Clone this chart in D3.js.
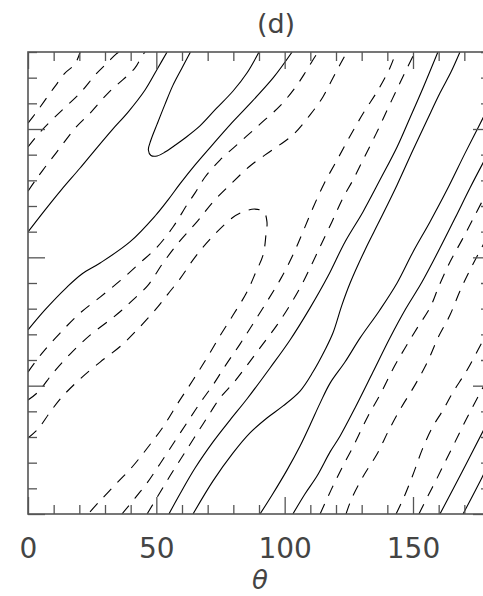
<!DOCTYPE html>
<html><head><meta charset="utf-8">
<script src="https://cdn.jsdelivr.net/npm/d3@7"></script>
<style>html,body{margin:0;padding:0;background:#fff;overflow:hidden}</style>
</head><body>
<script>
// ---- axis data ----
const xDomain = [0, 180];
const yDomain = [0, 180];
const minorTicks = [0,10,20,30,40,50,60,70,80,90,100,110,120,130,140,150,160,170,180];
const majorTicks = [0, 50, 100, 150];
const xTickLabels = ["0", "50", "100", "150"];
const titleText = "(d)";
const xLabel = "\u03b8";

// ---- solid contour lines [theta, y] ----
const solidA1 = [[0,109.9],[6.6,118.4],[12.9,126.2],[20.3,134.8],[26.1,141.8],[32.7,149.6],[39.0,156.6],[45.6,165.2],[50.6,173.8],[54.2,180]];
const solidLoop = [[63.3,180],[60.0,173.8],[56.5,167.1],[53.4,159.7],[50.3,151.9],[47.9,145.7],[46.9,141.8],[47.9,139.7],[50.3,139.5],[53.4,141.0],[56.9,143.4],[61.2,146.5],[67.0,151.2],[73.2,157.8],[79.9,164.8],[85.3,171.8],[90.0,180]];
const solidA3 = [[0,71.7],[6.6,79.5],[15.2,88.4],[21.0,93.5],[28.1,97.8],[39.7,106.0],[49.5,116.1],[54.5,122.3],[59.2,128.6],[65.1,136.0],[72.1,144.1],[78.7,151.6],[85.3,158.6],[95.5,169.9],[102.9,180]];
const solidB1 = [[54.9,0],[59.2,7.8],[65.1,17.9],[72.1,28.1],[78.7,36.6],[85.3,44.8],[94.3,56.9],[102.1,67.8],[109.9,80.3],[116.9,92.7],[123.5,106.0],[130.5,117.7],[137.1,130.1],[143.8,143.0],[148.8,154.3],[153.9,166.0],[159.7,180]];
const solidB2 = [[64.3,0],[72.1,12.9],[79.9,23.8],[86.5,31.6],[93.1,37.4],[99.4,42.1],[106.0,47.9],[111.0,55.3],[115.7,63.9],[118.8,70.5],[122.3,81.4],[125.5,90.0],[131.3,102.9],[137.1,114.5],[143.8,128.2],[150.0,141.8],[155.5,153.5],[160.5,164.0],[164.8,172.2],[168.3,180]];
const solidB3 = [[90.4,0],[95.1,7.4],[100.9,17.1],[106.0,26.5],[109.9,34.7],[113.8,43.2],[117.7,51.0],[123.5,59.2],[129.4,68.6],[137.1,79.5],[143.8,90.0],[150.0,102.1],[156.6,113.8],[163.2,126.2],[170.3,140.6],[175.3,150.4],[180,159.7]];
const solidB4 = [[103.2,0],[107.9,7.8],[112.6,14.8],[117.7,24.2],[121.6,30.4],[127.4,41.3],[134.4,55.3],[141.0,68.6],[146.9,79.5],[153.5,90.4],[160.5,103.6],[166.4,115.3],[172.2,127.0],[177.3,136.8],[180,141.8]];
const solidC1 = [[160.5,0],[169.1,16.4],[177.3,32.3],[180,37.4]];
const solidC2 = [[169.5,0],[174.2,9.0],[180,20.3]];

// ---- dashed contour lines [theta, y] ----
const dashA1 = [[0,152.3],[1.9,154.7],[3.9,157.4],[8.6,164.0],[10.9,167.1],[14.4,171.8],[18.3,175.3],[20.3,180]];
const dashA2 = [[0,143.0],[5.1,149.2],[12.9,157.0],[20.3,164.0],[26.5,171.4],[31.2,176.1],[34.3,179.2],[35.5,180]];
const dashA3 = [[0,125.8],[2.7,129.7],[5.8,134.0],[10.9,140.6],[18.7,150.7],[24.2,156.2],[31.2,164.0],[38.2,170.3],[41.7,173.8],[44.4,178.4],[45.6,180]];
const dashE = [[0,55.3],[5.5,62.7],[12.5,70.5],[20.3,78.3],[28.1,84.5],[35.8,90.8],[43.6,97.8],[50.3,104.0],[56.5,111.8],[61.9,120.4],[65.1,125.1],[69.0,131.3],[74.8,137.9],[82.6,144.9],[90.4,151.9],[98.2,159.0],[104.0,166.0],[107.9,171.8],[111.0,176.9],[113.0,180]];
const dashF = [[0,44.4],[3.9,47.5],[9.7,54.9],[16.4,62.3],[24.2,69.7],[31.9,75.6],[36.2,79.1],[40.9,83.4],[46.8,89.2],[52.6,97.8],[59.2,106.4],[65.8,113.8],[72.1,121.6],[79.5,129.0],[86.5,135.6],[95.1,141.8],[103.2,147.7],[109.9,155.5],[114.9,162.5],[118.8,169.9],[121.9,175.7],[124.3,180]];
const dashHook = [[0,29.6],[3.9,33.1],[8.6,39.7],[13.6,46.0],[20.3,52.6],[28.1,59.2],[36.2,65.5],[43.6,72.9],[49.9,79.9],[54.5,85.7],[59.2,91.6],[65.1,100.1],[71.7,107.9],[79.5,115.3],[83.8,117.7],[88.4,118.8],[91.9,117.7],[93.1,113.8],[92.7,108.7],[91.6,100.9],[88.8,94.3],[85.3,86.5],[79.9,77.5],[74.8,69.4],[69.7,60.8],[64.3,52.2],[58.4,43.2],[52.6,33.9],[46.8,26.1],[40.9,18.7],[33.9,11.3],[27.3,4.3],[23.4,0]];
const dashM1 = [[36.6,0],[41.7,6.2],[46.4,12.1],[51.4,19.5],[56.5,27.3],[61.9,35.5],[67.0,43.2],[72.1,50.3],[77.1,58.1],[82.6,66.2],[88.1,74.8],[93.5,83.4],[98.6,91.9],[103.2,100.9],[107.1,109.9],[111.0,119.2],[115.3,128.6],[120.4,137.9],[125.5,147.3],[130.9,156.6],[136.4,165.2],[141.0,173.8],[143.4,180]];
const dashM2 = [[46.4,0],[50.6,7.0],[55.3,14.8],[60.0,22.2],[64.7,29.6],[69.7,37.4],[74.8,45.2],[80.3,51.4],[85.7,58.4],[91.2,65.8],[97.0,73.6],[102.1,81.4],[106.8,89.6],[111.0,98.2],[114.5,105.6],[118.4,113.8],[122.7,123.1],[126.6,130.1],[130.9,138.7],[135.6,148.1],[140.3,158.2],[144.9,167.9],[148.1,174.5],[150.8,180]];
const dashR1 = [[113.8,0],[118.1,9.4],[122.3,17.9],[127.0,26.9],[132.5,38.2],[137.5,47.1],[142.2,56.5],[146.9,64.7],[151.9,72.9],[156.6,80.3],[160.1,88.8],[164.4,98.2],[169.1,106.8],[174.2,116.5],[180,127.8]];
const dashR2 = [[123.9,0],[126.2,6.2],[130.9,15.2],[136.0,23.4],[140.6,32.7],[145.3,41.3],[150.8,50.3],[155.8,59.6],[159.7,68.6],[164.4,77.5],[168.3,86.9],[172.2,95.1],[177.3,104.8],[180,109.9]];
const dashR3 = [[143.4,0],[146.5,6.6],[150.4,16.4],[153.5,24.9],[157.4,33.5],[161.7,40.5],[165.6,47.5],[170.6,55.3],[175.3,63.9],[180,72.9]];
const dashR4 = [[152.3,0],[155.8,7.0],[159.0,13.2],[162.5,20.3],[166.4,28.1],[170.6,36.6],[175.3,45.6],[180,54.5]];

const solidLines = [solidA1, solidLoop, solidA3, solidB1, solidB2, solidB3, solidB4, solidC1, solidC2];
const dashedLines = [dashA1, dashA2, dashA3, dashE, dashF, dashHook, dashM1, dashM2, dashR1, dashR2, dashR3, dashR4];

// ---- drawing ----
const W = 500, H = 596;
const L = 28, R = 490, T = 52, B = 514;
const axisColor = "#555";
const font = "'DejaVu Sans ExtraLight', 'DejaVu Sans', sans-serif";
const textColor = "#444";

const svg = d3.select("body").append("svg").attr("width", W).attr("height", H);
const x = d3.scaleLinear().domain(xDomain).range([L, R]);
const y = d3.scaleLinear().domain(yDomain).range([B, T]);

svg.append("clipPath").attr("id", "clip").append("rect")
  .attr("x", L).attr("y", T).attr("width", R - L).attr("height", B - T);

const line = d3.line().x(d => x(d[0])).y(d => y(d[1])).curve(d3.curveCatmullRom.alpha(0.5));
const g = svg.append("g").attr("clip-path", "url(#clip)");
g.selectAll("path.solid").data(solidLines).join("path")
  .attr("class", "solid").attr("d", line)
  .attr("fill", "none").attr("stroke", "#000").attr("stroke-width", 1.1);
g.selectAll("path.dash").data(dashedLines).join("path")
  .attr("class", "dash").attr("d", line)
  .attr("fill", "none").attr("stroke", "#000").attr("stroke-width", 1.1)
  .attr("stroke-dasharray", "11,9");

function styleAxis(sel) {
  sel.select(".domain").remove();
  sel.selectAll(".tick line").attr("stroke", axisColor).attr("stroke-width", 1.3);
}
const minorOnly = minorTicks.filter(t => !majorTicks.includes(t));
// bottom
svg.append("g").attr("transform", `translate(0,${B})`)
  .call(d3.axisBottom(x).tickValues(minorOnly).tickSize(-9).tickFormat(""))
  .call(styleAxis);
const bx = svg.append("g").attr("transform", `translate(0,${B})`)
  .call(d3.axisBottom(x).tickValues(majorTicks).tickSize(-17).tickPadding(24)
    .tickFormat((d, i) => xTickLabels[i]))
  .call(styleAxis);
bx.selectAll("text").attr("font-family", font).attr("font-size", 28)
  .attr("fill", textColor);
// top
svg.append("g").attr("transform", `translate(0,${T})`)
  .call(d3.axisTop(x).tickValues(minorOnly).tickSize(-9).tickFormat(""))
  .call(styleAxis);
svg.append("g").attr("transform", `translate(0,${T})`)
  .call(d3.axisTop(x).tickValues(majorTicks).tickSize(-17).tickFormat(""))
  .call(styleAxis);
// left
svg.append("g").attr("transform", `translate(${L},0)`)
  .call(d3.axisLeft(y).tickValues(minorOnly).tickSize(-9).tickFormat(""))
  .call(styleAxis);
svg.append("g").attr("transform", `translate(${L},0)`)
  .call(d3.axisLeft(y).tickValues(majorTicks).tickSize(-17).tickFormat(""))
  .call(styleAxis);
// right
svg.append("g").attr("transform", `translate(${R},0)`)
  .call(d3.axisRight(y).tickValues(minorOnly).tickSize(-9).tickFormat(""))
  .call(styleAxis);
svg.append("g").attr("transform", `translate(${R},0)`)
  .call(d3.axisRight(y).tickValues(majorTicks).tickSize(-17).tickFormat(""))
  .call(styleAxis);

// frame
svg.append("rect").attr("x", L).attr("y", T).attr("width", R - L).attr("height", B - T)
  .attr("fill", "none").attr("stroke", axisColor).attr("stroke-width", 1.6);

// title and axis label
svg.append("text").attr("x", 276).attr("y", 33).attr("text-anchor", "middle")
  .attr("font-family", font).attr("font-size", 27)
  .attr("fill", textColor).text(titleText);
svg.append("text").attr("x", 260).attr("y", 589).attr("text-anchor", "middle")
  .attr("font-family", font).attr("font-size", 26).attr("font-style", "italic")
  .attr("fill", textColor).text(xLabel);
</script>
</body></html>
